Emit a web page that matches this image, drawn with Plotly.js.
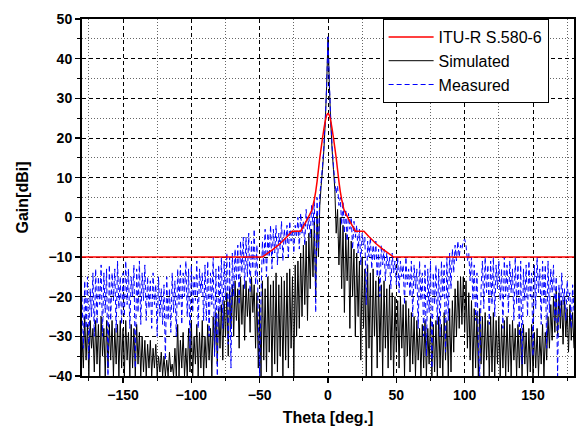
<!DOCTYPE html>
<html>
<head>
<meta charset="utf-8">
<script src="https://cdn.plot.ly/plotly-3.0.1.min.js"></script>
<style>html,body{margin:0;padding:0;background:#fff;}#chart{width:582px;height:427px;}</style>
</head>
<body>
<div id="chart"></div>
<script>
// Sampling of the simulated / measured patterns: start angle and step (deg)
const thetaStart = -180;
const thetaStep = 1;

// Simulated gain [dBi], theta -180..180 step 1
const simulatedGain = [
  -30,-38,-25,-36,-27,-40,-26,-33,-28,-39,
  -26,-37,-27,-40,-25,-35,-28,-40,-26,-38,
  -27,-36,-26,-40,-28,-37,-27,-40,-26,-38,
  -28,-40,-26,-36,-29,-40,-27,-38,-28,-40,
  -27,-37,-29,-40,-30,-39,-31,-40,-32,-38,
  -31,-40,-33,-38,-32,-40,-35,-39,-34,-40,
  -35,-40,-36,-40,-34,-39,-37,-40,-33,-40,
  -27,-40,-31,-38,-29,-40,-33,-40,-28,-39,
  -26,-40,-30,-37,-27,-40,-29,-38,-26,-40,
  -30,-38,-27,-36,-28,-40,-25,-34,-24,-37,
  -23,-33,-22,-36,-21,-30,-19,-35,-18,-28,
  -17,-30,-16,-26,-18,-33,-15,-27,-17,-31,
  -16,-25,-18,-29,-15,-24,-17,-33,-19,-38,
  -22,-40,-16,-36,-18,-39,-15,-34,-17,-40,
  -16,-37,-14,-39,-17,-35,-15,-40,-16,-36,
  -14,-38,-13,-33,-15,-40,-12,-30,-11,-28,
  -9,-25,-7,-22,-6,-26,-4,-18,-3,-15,
  -1,-20,1,-10,3,8,12,17,24,33,
  45.5,
  33,24,17,12,7,-4,2,-12,0,-18,
  -2,-24,-4,-16,-5,-28,-6,-20,-8,-30,
  -9,-25,-11,-36,-10,-28,-13,-40,-12,-33,
  -14,-40,-13,-30,-16,-38,-15,-34,-17,-40,
  -16,-33,-18,-38,-17,-36,-19,-40,-20,-34,
  -21,-38,-20,-33,-22,-40,-21,-35,-23,-39,
  -24,-37,-25,-40,-26,-36,-28,-40,-27,-38,
  -26,-40,-28,-37,-25,-40,-27,-39,-26,-40,
  -25,-38,-27,-40,-24,-36,-26,-40,-23,-39,
  -21,-34,-18,-30,-16,-28,-15,-27,-15,-29,
  -16,-33,-19,-36,-21,-40,-23,-38,-24,-40,
  -23,-37,-25,-40,-24,-36,-26,-40,-25,-39,
  -24,-40,-26,-37,-25,-40,-27,-38,-26,-40,
  -25,-39,-27,-40,-26,-36,-28,-40,-27,-38,
  -28,-40,-27,-37,-29,-40,-28,-39,-27,-40,
  -29,-38,-28,-40,-30,-37,-27,-40,-29,-36,
  -25,-33,-22,-31,-20,-29,-18,-30,-19,-28,
  -21,-32,-20,-30,-23,-34,-22,-31,-24,-33
];

// Measured gain [dBi], theta -180..180 step 1
const measuredGain = [
  -20,-33,-16,-28,-15,-36,-18,-25,-14,-30,
  -13,-27,-15,-22,-12,-30,-14,-24,-13,-40,
  -12,-26,-14,-21,-13,-29,-11,-23,-15,-27,
  -14,-25,-11,-22,-13,-28,-15,-20,-12,-38,
  -13,-24,-11,-27,-14,-21,-12,-26,-15,-23,
  -16,-28,-14,-22,-17,-30,-15,-25,-18,-27,
  -17,-36,-15,-26,-18,-29,-14,-24,-16,-30,
  -13,-22,-12,-27,-14,-20,-11,-25,-13,-33,
  -12,-24,-15,-21,-11,-28,-13,-19,-14,-26,
  -12,-26,-11,-30,-14,-22,-10,-35,-13,-40,
  -12,-24,-10,-28,-11,-21,-9,-32,-10,-38,
  -9,-20,-8,-16,-7,-22,-6,-14,-5,-18,
  -5,-15,-4,-19,-6,-13,-3,-17,-7,-25,
  -40,-20,-6,-12,-3,-15,-4,-10,-2,-13,
  -3,-9,-2,-12,-4,-8,-1,-11,-3,-7,
  -2,-10,-1,-6,-3,-9,-2,-5,0,-8,
  1,-4,-1,-7,2,-3,0,-5,3,-2,
  4,-24,5,-8,6,9,13,18,25,33,
  45.5,
  34,25,18,13,9,6,8,3,5,-2,
  4,-4,2,-6,1,-3,0,-8,-1,-5,
  -2,-9,-3,-12,-4,-7,-5,-22,-6,-10,
  -5,-13,-7,-11,-6,-15,-8,-20,-7,-12,
  -8,-16,-9,-13,-10,-18,-9,-14,-11,-17,
  -10,-19,-11,-15,-12,-22,-10,-17,-13,-20,
  -11,-25,-12,-18,-13,-28,-11,-21,-14,-30,
  -12,-35,-13,-24,-11,-38,-14,-22,-12,-27,
  -13,-30,-11,-20,-12,-34,-10,-26,-9,-18,
  -8,-14,-7,-11,-6,-10,-7,-8,-6,-5.5,
  -7,-11,-9,-16,-10,-21,-12,-26,-14,-32,
  -40,-18,-11,-23,-10,-19,-12,-27,-11,-22,
  -10,-25,-12,-18,-11,-21,-13,-28,-10,-20,
  -12,-24,-11,-19,-13,-26,-10,-22,-12,-30,
  -11,-37,-13,-21,-12,-25,-11,-20,-14,-35,
  -12,-23,-10,-19,-13,-27,-11,-22,-12,-33,
  -11,-24,-13,-19,-12,-26,-15,-40,-17,-25,
  -14,-22,-18,-26,-16,-21,-19,-28,-17,-24
];

// ITU-R S.580-6 envelope
const ituTheta = [-180,-48,-40,-35,-30,-26.3,-20,-15,-11.7,-10,-9,-8,-7,-6,-5,-4,-3,-2,-1,0,
                  1,2,3,4,5,6,7,8,9,10,11.7,15,20,26.3,30,35,40,48,180];
const ituGain  = [-10,-10,-8,-6.6,-4.9,-3.5,-3.5,-0.4,1.9,4.5,6.5,9,12,15,17.5,20,22.3,24.3,25.7,26.3,
                  25.7,24.3,22.3,20,17.5,15,12,9,6.5,4.5,1.9,-0.4,-3.5,-3.5,-4.9,-6.6,-8,-10,-10];

const seriesNames = ['ITU-R S.580-6', 'Simulated', 'Measured'];
const xTitle = 'Theta [deg.]';
const yTitle = 'Gain[dBi]';

const FONT = 'Arial, "Liberation Sans", Helvetica, sans-serif';

const traces = [
  {
    type: 'scatter', mode: 'lines', name: seriesNames[1], legendrank: 2,
    x0: thetaStart, dx: thetaStep, y: simulatedGain,
    line: {color: '#000000', width: 1, simplify: false}
  },
  {
    type: 'scatter', mode: 'lines', name: seriesNames[2], legendrank: 3,
    x0: thetaStart, dx: thetaStep, y: measuredGain,
    line: {color: '#0000ff', width: 1, dash: '5px,3px', simplify: false}
  },
  {
    type: 'scatter', mode: 'lines', name: seriesNames[0], legendrank: 1,
    x: ituTheta, y: ituGain,
    line: {color: '#ff0000', width: 1.5, simplify: false}
  }
];

const axisCommon = {
  showline: true, linecolor: '#000', linewidth: 2, mirror: true,
  ticks: 'outside', ticklen: 5, tickwidth: 1.5, tickcolor: '#000',
  showgrid: true, gridcolor: '#000', gridwidth: 1, griddash: '4px,3px',
  zeroline: false,
  tickfont: {family: FONT, size: 14, color: '#000', weight: 'bold'}
};

const layout = {
  width: 582, height: 427,
  margin: {l: 82, r: 8, t: 19, b: 51},
  paper_bgcolor: '#fff', plot_bgcolor: '#fff',
  font: {family: FONT, color: '#000'},
  showlegend: true,
  xaxis: Object.assign({}, axisCommon, {
    range: [-180, 180], tick0: 0, dtick: 50,
    minor: {tick0: 0, dtick: 25, ticks: 'outside', ticklen: 3, tickwidth: 1, tickcolor: '#000',
            showgrid: true, gridcolor: '#666', gridwidth: 1, griddash: '1px,2px'},
    title: {text: xTitle, font: {family: FONT, size: 16, color: '#000', weight: 'bold'}, standoff: 10}
  }),
  yaxis: Object.assign({}, axisCommon, {
    range: [-40, 50], tick0: 0, dtick: 10,
    minor: {tick0: 0, dtick: 5, ticks: 'outside', ticklen: 3, tickwidth: 1, tickcolor: '#000',
            showgrid: true, gridcolor: '#666', gridwidth: 1, griddash: '1px,2px'},
    title: {text: yTitle, font: {family: FONT, size: 16, color: '#000', weight: 'bold'}, standoff: 16}
  }),
  legend: {
    x: 0.611, y: 1, xanchor: 'left', yanchor: 'top',
    bgcolor: '#fff', bordercolor: '#000', borderwidth: 1,
    font: {family: FONT, size: 16, color: '#000'},
    itemwidth: 45,
    tracegroupgap: 0
  }
};

Plotly.newPlot('chart', traces, layout, {staticPlot: true, displayModeBar: false});
</script>
</body>
</html>
